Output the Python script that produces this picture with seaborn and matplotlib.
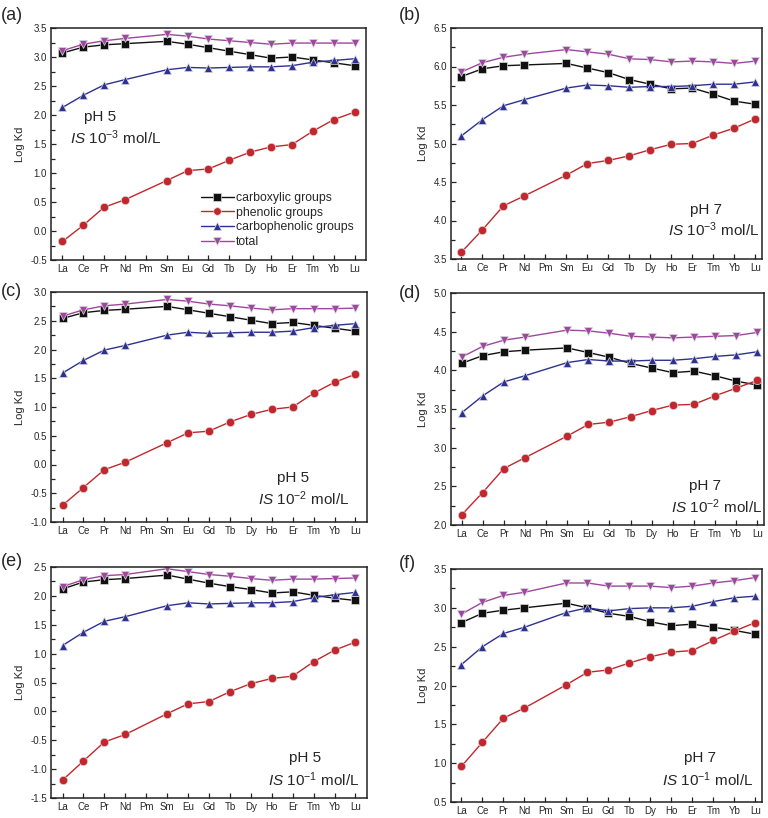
import numpy as np
import pandas as pd
import matplotlib
matplotlib.use("Agg")
import matplotlib.pyplot as plt
import seaborn as sns
from matplotlib.ticker import MultipleLocator
from matplotlib.lines import Line2D

elements = ["La", "Ce", "Pr", "Nd", "Pm", "Sm", "Eu", "Gd", "Tb", "Dy", "Ho", "Er", "Tm", "Yb", "Lu"]
measured = ["La", "Ce", "Pr", "Nd", "Sm", "Eu", "Gd", "Tb", "Dy", "Ho", "Er", "Tm", "Yb", "Lu"]
series_names = ["carboxylic groups", "phenolic groups", "carbophenolic groups", "total"]

# (a) pH 5, IS 1e-3
a_carboxylic = [3.07, 3.17, 3.21, 3.23, 3.27, 3.22, 3.16, 3.10, 3.04, 2.98, 3.00, 2.95, 2.90, 2.85]
a_phenolic = [-0.18, 0.10, 0.41, 0.54, 0.87, 1.04, 1.07, 1.22, 1.36, 1.45, 1.49, 1.72, 1.92, 2.05]
a_carbophenolic = [2.13, 2.34, 2.52, 2.61, 2.78, 2.82, 2.81, 2.82, 2.83, 2.83, 2.85, 2.91, 2.94, 2.97]
a_total = [3.11, 3.22, 3.28, 3.32, 3.39, 3.36, 3.31, 3.28, 3.25, 3.22, 3.24, 3.24, 3.24, 3.24]

# (b) pH 7, IS 1e-3
b_carboxylic = [5.87, 5.97, 6.01, 6.02, 6.04, 5.98, 5.92, 5.83, 5.77, 5.71, 5.72, 5.64, 5.55, 5.51]
b_phenolic = [3.59, 3.88, 4.19, 4.32, 4.59, 4.74, 4.78, 4.84, 4.92, 4.99, 5.00, 5.11, 5.20, 5.32]
b_carbophenolic = [5.10, 5.31, 5.49, 5.57, 5.72, 5.76, 5.75, 5.73, 5.74, 5.74, 5.75, 5.77, 5.77, 5.80]
b_total = [5.93, 6.05, 6.12, 6.16, 6.22, 6.19, 6.16, 6.10, 6.09, 6.06, 6.07, 6.06, 6.04, 6.07]

# (c) pH 5, IS 1e-2
c_carboxylic = [2.54, 2.64, 2.68, 2.70, 2.75, 2.69, 2.63, 2.57, 2.51, 2.45, 2.47, 2.42, 2.37, 2.32]
c_phenolic = [-0.71, -0.40, -0.09, 0.04, 0.38, 0.55, 0.58, 0.74, 0.87, 0.96, 1.00, 1.24, 1.43, 1.57]
c_carbophenolic = [1.59, 1.81, 1.99, 2.07, 2.25, 2.30, 2.28, 2.29, 2.30, 2.30, 2.32, 2.38, 2.42, 2.45]
c_total = [2.58, 2.69, 2.76, 2.79, 2.87, 2.84, 2.79, 2.76, 2.72, 2.69, 2.71, 2.71, 2.71, 2.72]

# (d) pH 7, IS 1e-2
d_carboxylic = [4.09, 4.19, 4.24, 4.26, 4.29, 4.23, 4.17, 4.09, 4.03, 3.97, 3.99, 3.93, 3.86, 3.81]
d_phenolic = [2.13, 2.42, 2.73, 2.87, 3.15, 3.30, 3.33, 3.40, 3.48, 3.55, 3.56, 3.67, 3.77, 3.87]
d_carbophenolic = [3.45, 3.67, 3.85, 3.93, 4.10, 4.14, 4.12, 4.12, 4.13, 4.13, 4.15, 4.18, 4.20, 4.24]
d_total = [4.17, 4.31, 4.39, 4.43, 4.52, 4.51, 4.48, 4.44, 4.43, 4.42, 4.43, 4.44, 4.45, 4.49]

# (e) pH 5, IS 1e-1
e_carboxylic = [2.12, 2.24, 2.28, 2.30, 2.36, 2.29, 2.22, 2.16, 2.11, 2.05, 2.07, 2.01, 1.96, 1.92]
e_phenolic = [-1.19, -0.86, -0.53, -0.40, -0.04, 0.13, 0.17, 0.34, 0.48, 0.57, 0.61, 0.86, 1.06, 1.20]
e_carbophenolic = [1.14, 1.37, 1.56, 1.64, 1.83, 1.88, 1.86, 1.87, 1.88, 1.88, 1.90, 1.97, 2.02, 2.06]
e_total = [2.16, 2.28, 2.35, 2.37, 2.47, 2.42, 2.37, 2.34, 2.30, 2.27, 2.29, 2.29, 2.30, 2.31]

# (f) pH 7, IS 1e-1
f_carboxylic = [2.81, 2.93, 2.97, 3.00, 3.06, 3.00, 2.93, 2.89, 2.82, 2.77, 2.79, 2.75, 2.71, 2.66]
f_phenolic = [0.96, 1.27, 1.58, 1.71, 2.01, 2.17, 2.20, 2.29, 2.37, 2.43, 2.45, 2.58, 2.70, 2.81]
f_carbophenolic = [2.27, 2.50, 2.67, 2.75, 2.94, 3.00, 2.96, 2.99, 3.00, 3.00, 3.02, 3.08, 3.13, 3.15]
f_total = [2.92, 3.07, 3.16, 3.20, 3.32, 3.32, 3.28, 3.28, 3.28, 3.26, 3.28, 3.32, 3.35, 3.39]

panel_labels = ["(a)", "(b)", "(c)", "(d)", "(e)", "(f)"]
ph_labels = ["pH 5", "pH 7", "pH 5", "pH 7", "pH 5", "pH 7"]
is_labels = [r"$\mathit{IS}$ 10$^{-3}$ mol/L", r"$\mathit{IS}$ 10$^{-3}$ mol/L",
             r"$\mathit{IS}$ 10$^{-2}$ mol/L", r"$\mathit{IS}$ 10$^{-2}$ mol/L",
             r"$\mathit{IS}$ 10$^{-1}$ mol/L", r"$\mathit{IS}$ 10$^{-1}$ mol/L"]
y_limits = [(-0.5, 3.5), (3.5, 6.5), (-1.0, 3.0), (2.0, 5.0), (-1.5, 2.5), (0.5, 3.5)]

panels = [
    (a_carboxylic, a_phenolic, a_carbophenolic, a_total),
    (b_carboxylic, b_phenolic, b_carbophenolic, b_total),
    (c_carboxylic, c_phenolic, c_carbophenolic, c_total),
    (d_carboxylic, d_phenolic, d_carbophenolic, d_total),
    (e_carboxylic, e_phenolic, e_carbophenolic, e_total),
    (f_carboxylic, f_phenolic, f_carbophenolic, f_total),
]

sns.set_theme(style="ticks")
plt.rcParams["font.family"] = ["Liberation Sans", "DejaVu Sans"]
plt.rcParams["mathtext.fontset"] = "custom"
plt.rcParams["mathtext.rm"] = "Liberation Sans"
plt.rcParams["mathtext.it"] = "Liberation Sans:italic"
plt.rcParams["axes.unicode_minus"] = False

palette = {"carboxylic groups": "#111111", "phenolic groups": "#c1272d",
           "carbophenolic groups": "#2e3192", "total": "#9e479e"}
markers = {"carboxylic groups": "s", "phenolic groups": "o",
           "carbophenolic groups": "^", "total": "v"}

W, H = 768, 818
fig = plt.figure(figsize=(W / 100, H / 100), dpi=100)

# pixel boxes: left, top, right, bottom
boxes = [(51, 28, 366, 260), (451, 28, 762, 259),
         (51, 292, 367, 522), (451, 293, 764, 525),
         (51, 567, 367, 798), (451, 569, 762, 802)]
ph_pos = [(0.157, 0.616), (0.82, 0.212), (0.767, 0.191), (0.81, 0.168), (0.804, 0.173), (0.80, 0.19)]
is_pos = [(0.205, 0.526), (0.844, 0.126), (0.80, 0.10), (0.85, 0.078), (0.83, 0.078), (0.826, 0.094)]
label_pos = [(1, 15), (399, 15), (1, 292), (399, 293), (1, 562), (399, 563)]

xpos = {el: i for i, el in enumerate(elements)}

for k, vals in enumerate(panels):
    l, t, r, b = boxes[k]
    ax = fig.add_axes([l / W, 1 - b / H, (r - l) / W, (b - t) / H])
    rows = []
    for name, v in zip(series_names, vals):
        for el, y in zip(measured, v):
            rows.append({"x": xpos[el], "y": y, "series": name})
    df = pd.DataFrame(rows)
    sns.lineplot(data=df, x="x", y="y", hue="series", style="series",
                 hue_order=series_names, style_order=series_names,
                 palette=palette, markers=markers, dashes=False,
                 errorbar=None, ax=ax, legend=False, linewidth=1.0,
                 markersize=6, markeredgecolor="#d8d8d8", markeredgewidth=0.5)
    ax.set_xticks(range(len(elements)))
    ax.set_xticklabels(elements)
    if k % 2 == 0:
        ax.set_xlim(-0.55, 14.55)
    else:
        ax.set_xlim(-0.5, 14.32)
    ax.set_ylim(*y_limits[k])
    ax.yaxis.set_major_locator(MultipleLocator(0.5))
    ax.yaxis.set_minor_locator(MultipleLocator(0.25))
    ax.yaxis.set_major_formatter(matplotlib.ticker.FormatStrFormatter("%.1f"))
    ax.tick_params(axis="both", which="major", direction="in", length=3.5, width=0.9,
                   labelsize=7, pad=3, top=False, right=False, color="#222222")
    ax.tick_params(axis="y", which="minor", direction="in", length=3.0, width=0.9,
                   right=False, color="#222222")
    for sp in ax.spines.values():
        sp.set_visible(True)
        sp.set_linewidth(1.1)
        sp.set_color("#222222")
    ax.set_xlabel("")
    ax.set_ylabel("Log Kd", fontsize=8, labelpad=4)
    ax.text(*ph_pos[k], ph_labels[k], transform=ax.transAxes, ha="center", va="center", fontsize=11)
    ax.text(*is_pos[k], is_labels[k], transform=ax.transAxes, ha="center", va="center", fontsize=11)
    fig.text(label_pos[k][0] / W, 1 - label_pos[k][1] / H, panel_labels[k],
             ha="left", va="center", fontsize=13)
    if k == 0:
        handles = [Line2D([], [], color=palette[n], marker=markers[n], markersize=5.5,
                          markeredgecolor="#d8d8d8", markeredgewidth=0.5, linewidth=1.0)
                   for n in series_names]
        ax.legend(handles, series_names, loc="lower right", bbox_to_anchor=(0.985, 0.02),
                  frameon=False, fontsize=8.8, handlelength=2.7, handletextpad=0.2,
                  labelspacing=0.22, borderaxespad=0.2)

fig.savefig("out.png", dpi=100)
